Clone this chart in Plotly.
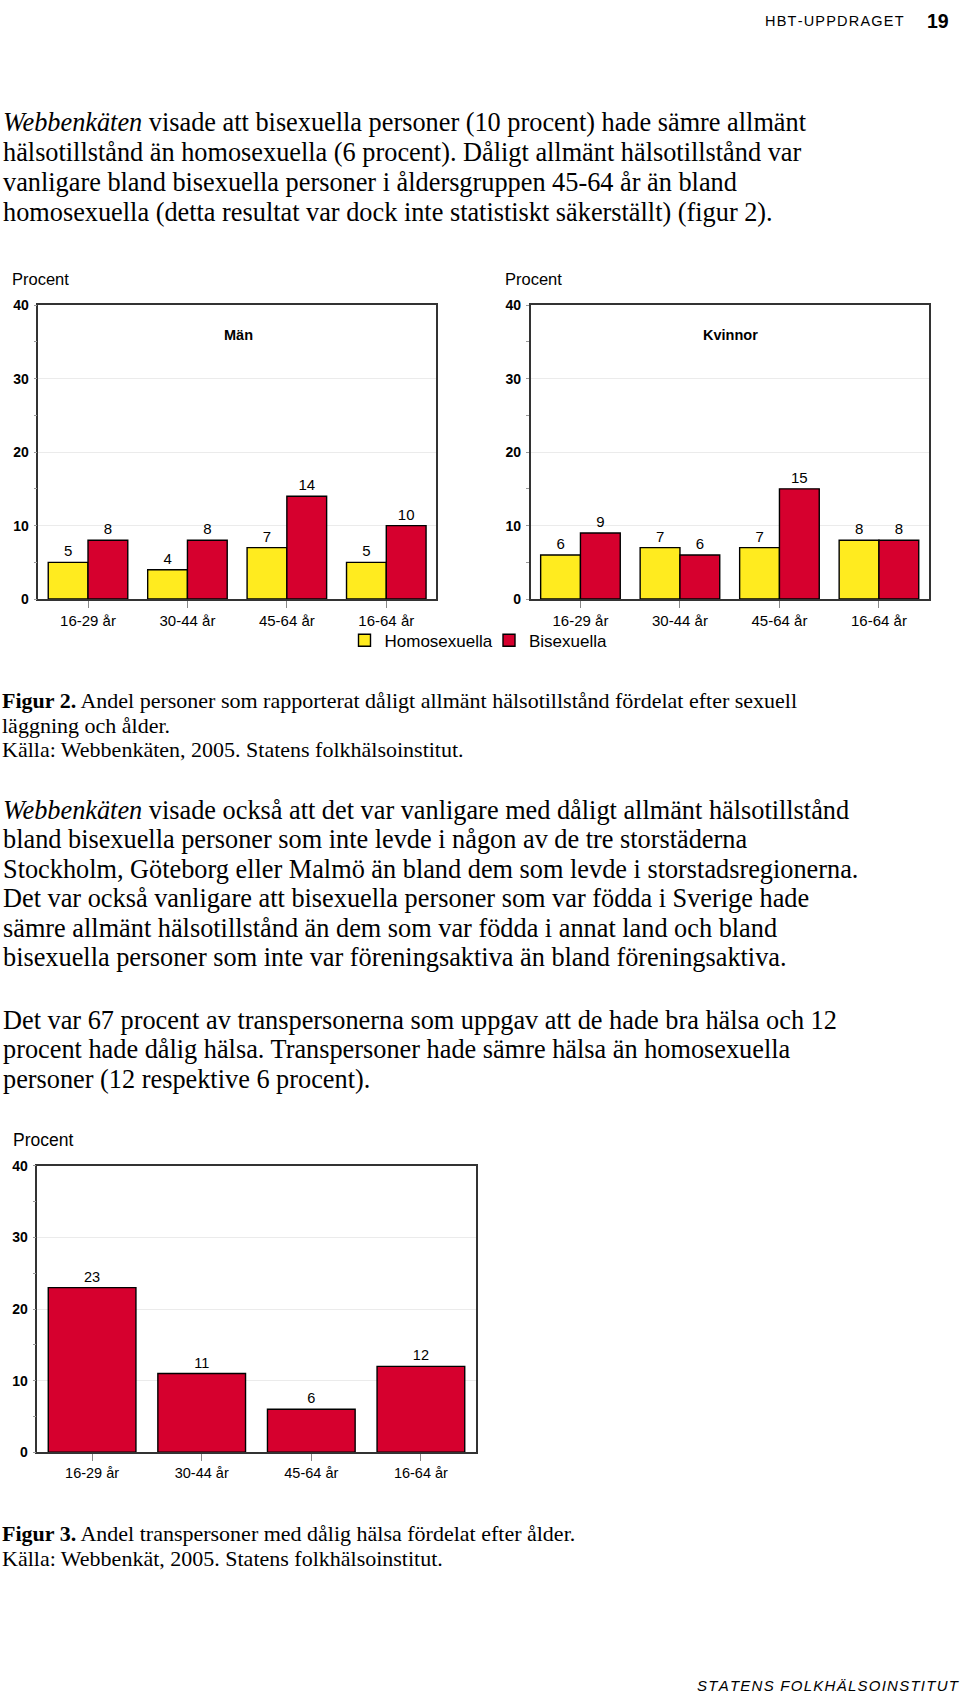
import plotly.graph_objects as go

# ---------------- data ----------------
categories = ["16-29 år", "30-44 år", "45-64 år", "16-64 år"]
series_names = ["Homosexuella", "Bisexuella"]
man_homosexuella = [5, 4, 7, 5]
man_bisexuella = [8, 8, 14, 10]
kvinnor_homosexuella = [6, 7, 7, 8]
kvinnor_bisexuella = [9, 6, 15, 8]
trans_values = [23, 11, 6, 12]
y_ticks = [0, 10, 20, 30, 40]

header_text = "HBT-UPPDRAGET"
page_number = "19"
footer_text = "STATENS FOLKHÄLSOINSTITUT"

para1 = [
    "<i>Webbenkäten</i> visade att bisexuella personer (10 procent) hade sämre allmänt",
    "hälsotillstånd än homosexuella (6 procent). Dåligt allmänt hälsotillstånd var",
    "vanligare bland bisexuella personer i åldersgruppen 45-64 år än bland",
    "homosexuella (detta resultat var dock inte statistiskt säkerställt) (figur 2).",
]
caption2 = [
    "<b>Figur 2.</b> Andel personer som rapporterat dåligt allmänt hälsotillstånd fördelat efter sexuell",
    "läggning och ålder.",
    "Källa: Webbenkäten, 2005. Statens folkhälsoinstitut.",
]
para2 = [
    "<i>Webbenkäten</i> visade också att det var vanligare med dåligt allmänt hälsotillstånd",
    "bland bisexuella personer som inte levde i någon av de tre storstäderna",
    "Stockholm, Göteborg eller Malmö än bland dem som levde i storstadsregionerna.",
    "Det var också vanligare att bisexuella personer som var födda i Sverige hade",
    "sämre allmänt hälsotillstånd än dem som var födda i annat land och bland",
    "bisexuella personer som inte var föreningsaktiva än bland föreningsaktiva.",
]
para3 = [
    "Det var 67 procent av transpersonerna som uppgav att de hade bra hälsa och 12",
    "procent hade dålig hälsa. Transpersoner hade sämre hälsa än homosexuella",
    "personer (12 respektive 6 procent).",
]
caption3 = [
    "<b>Figur 3.</b> Andel transpersoner med dålig hälsa fördelat efter ålder.",
    "Källa: Webbenkät, 2005. Statens folkhälsoinstitut.",
]

# ---------------- styling / layout helpers ----------------
W, H = 960, 1697
YELLOW = "#FFEB1F"
RED = "#D6002E"
SANS = "Liberation Sans, Arial, Helvetica, sans-serif"
SERIF = "Liberation Serif, Times New Roman, serif"


def px(x):
    return x / W


def py(y):
    return 1 - y / H


fig = go.Figure()


def add_bars(y, name, color, xa, ya, legend="legend", showlegend=False, size=15):
    fig.add_trace(go.Bar(
        x=categories, y=y, name=name,
        marker=dict(color=color, line=dict(color="#000000", width=1.4)),
        texttemplate="%{y}", textposition="outside",
        textfont=dict(family=SANS, size=size, color="#000000"),
        cliponaxis=False, xaxis=xa, yaxis=ya,
        showlegend=showlegend, legend=legend, hoverinfo="skip",
    ))


add_bars(man_homosexuella, series_names[0], YELLOW, "x", "y", "legend", True)
add_bars(man_bisexuella, series_names[1], RED, "x", "y", "legend2", True)
add_bars(kvinnor_homosexuella, series_names[0], YELLOW, "x2", "y2")
add_bars(kvinnor_bisexuella, series_names[1], RED, "x2", "y2")
add_bars(trans_values, "Transpersoner", RED, "x3", "y3", size=14.5)


def yaxis_cfg(top, bottom, anchor):
    return dict(
        domain=[py(bottom), py(top)], anchor=anchor, range=[0, 40],
        tickvals=y_ticks, ticks="", showline=True, mirror=True,
        linecolor="#333333", linewidth=1.5, showgrid=True, gridcolor="#ebebeb",
        gridwidth=1, zeroline=False, ticklabelstandoff=5,
        tickfont=dict(family=SANS, size=14, color="#000000", weight="bold"),
        minor=dict(dtick=5, tick0=0, ticks="outside", ticklen=3, tickcolor="#999999", showgrid=False),
        fixedrange=True,
    )


def xaxis_cfg(left, right, anchor, size):
    return dict(
        domain=[px(left), px(right)], anchor=anchor, type="category",
        ticks="outside", ticklen=7, tickcolor="#888888", tickwidth=1,
        showline=True, mirror=True, linecolor="#333333", linewidth=1.5,
        showgrid=False, tickfont=dict(family=SANS, size=size, color="#000000"),
        fixedrange=True,
    )


annotations = []


def txt(x, y, s, size, family, weight="normal", italic=False, anchor="left"):
    annotations.append(dict(
        x=px(x), y=py(y), xref="paper", yref="paper", text=s, showarrow=False,
        xanchor=anchor, yanchor="middle", borderpad=0,
        font=dict(family=family, size=size, color="#000000", weight=weight,
                  style="italic" if italic else "normal"),
    ))


HAIR = "\u200a"
txt(764, 13, HAIR.join(header_text), 14.5, SANS)
txt(926, 13, page_number, 19.5, SANS, weight="bold")

for i, line in enumerate(para1):
    txt(2, 115.5 + 30.3 * i, line, 26.3, SERIF)

# chart labels
txt(11, 274, "Procent", 16.5, SANS)
txt(504, 274, "Procent", 16.5, SANS)
txt(238, 330, "Män", 14.5, SANS, weight="bold", anchor="center")
txt(730, 330, "Kvinnor", 14.5, SANS, weight="bold", anchor="center")

for i, line in enumerate(caption2):
    txt(1, 699 + 25 * i, line, 22, SERIF)
for i, line in enumerate(para2):
    txt(2, 810 + 29.8 * i, line, 26.3, SERIF)
for i, line in enumerate(para3):
    txt(2, 1022 + 29.8 * i, line, 26.3, SERIF)

txt(12, 1143, "Procent", 17.5, SANS)
for i, line in enumerate(caption3):
    txt(1, 1540 + 25 * i, line, 22, SERIF)

txt(696, 1693, HAIR.join(footer_text), 15, SANS, italic=True)

fig.update_layout(
    width=W, height=H, margin=dict(l=0, r=0, t=0, b=0),
    paper_bgcolor="white", plot_bgcolor="white",
    barmode="group", bargap=0.2, bargroupgap=0,
    xaxis=xaxis_cfg(38.3, 436, "y", 15),
    yaxis=yaxis_cfg(300, 596.7, "x"),
    xaxis2=xaxis_cfg(530.7, 928.7, "y2", 15),
    yaxis2=yaxis_cfg(300, 596.7, "x2"),
    xaxis3=xaxis_cfg(37.3, 475.7, "y3", 14.5),
    yaxis3=yaxis_cfg(1169, 1458, "x3"),
    legend=dict(x=px(344.5), xanchor="left", y=py(638.7), yanchor="middle",
                orientation="h", font=dict(family=SANS, size=17, color="#000000"),
                bgcolor="rgba(0,0,0,0)", borderwidth=0),
    legend2=dict(x=px(489), xanchor="left", y=py(638.7), yanchor="middle",
                 orientation="h", font=dict(family=SANS, size=17, color="#000000"),
                 bgcolor="rgba(0,0,0,0)", borderwidth=0),
    annotations=annotations,
    showlegend=True,
)

fig.write_html(
    "out.html",
    config={"displayModeBar": False},
    post_script="document.body.style.margin='0';document.body.style.overflow='hidden';",
)
